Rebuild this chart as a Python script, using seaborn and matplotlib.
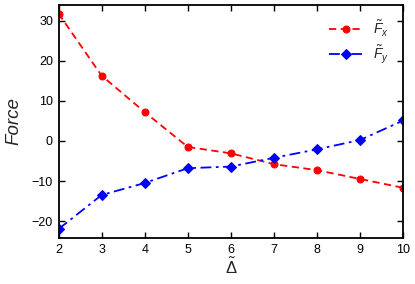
import numpy as np
import pandas as pd
import matplotlib
matplotlib.use('Agg')
import matplotlib.pyplot as plt
import seaborn as sns

# Values
delta = [2, 3, 4, 5, 6, 7, 8, 9, 10]
force_x = [31.8, 16.3, 7.2, -1.5, -3.1, -5.8, -7.3, -9.5, -11.7]
force_y = [-22.0, -13.5, -10.5, -6.8, -6.4, -4.2, -2.1, 0.25, 5.1]

sns.set_style('ticks')
plt.rcParams['font.family'] = ['Liberation Sans', 'DejaVu Sans']
plt.rcParams['mathtext.fontset'] = 'custom'
plt.rcParams['mathtext.rm'] = 'Liberation Sans'
plt.rcParams['mathtext.it'] = 'Liberation Sans:italic'

fig = plt.figure(figsize=(4.15, 2.84), dpi=100)
ax = fig.add_axes([58.5 / 415, 1 - 238.3 / 284, (403.3 - 58.5) / 415, (238.3 - 4.7) / 284])

sns.lineplot(x=delta, y=force_x, ax=ax, color='red', marker='o', markersize=5,
             markeredgecolor='red', linewidth=1.3, label=r'$\tilde{F}_x$')
sns.lineplot(x=delta, y=force_y, ax=ax, color='blue', marker='D', markersize=5,
             markeredgecolor='blue', linewidth=1.3, label=r'$\tilde{F}_y$')
ax.lines[0].set_linestyle((0, (4, 2.5)))
ax.lines[1].set_linestyle((0, (6, 2.5, 1.5, 2.5)))

ax.set_xlim(2, 10)
ax.set_ylim(-24.3, 34)
ax.set_xticks(delta)
ax.set_yticks([-20, -10, 0, 10, 20, 30])
ax.set_yticklabels(['\u221220', '\u221210', '0', '10', '20', '30'])
ax.tick_params(direction='in', top=True, right=True, length=4, width=1, labelsize=9,
               colors='black', pad=4)
for sp in ax.spines.values():
    sp.set_visible(True)
    sp.set_linewidth(1.3)
    sp.set_color('black')

ax.set_xlabel(r'$\tilde{\Delta}$', fontsize=12, labelpad=1)
ax.set_ylabel('Force', fontsize=13.5, style='italic', labelpad=7)

leg = ax.legend(loc='upper right', frameon=False, fontsize=10, handlelength=2.4,
                borderaxespad=0.6, labelspacing=0.35, handletextpad=0.8)

fig.savefig('out.png', dpi=100)
